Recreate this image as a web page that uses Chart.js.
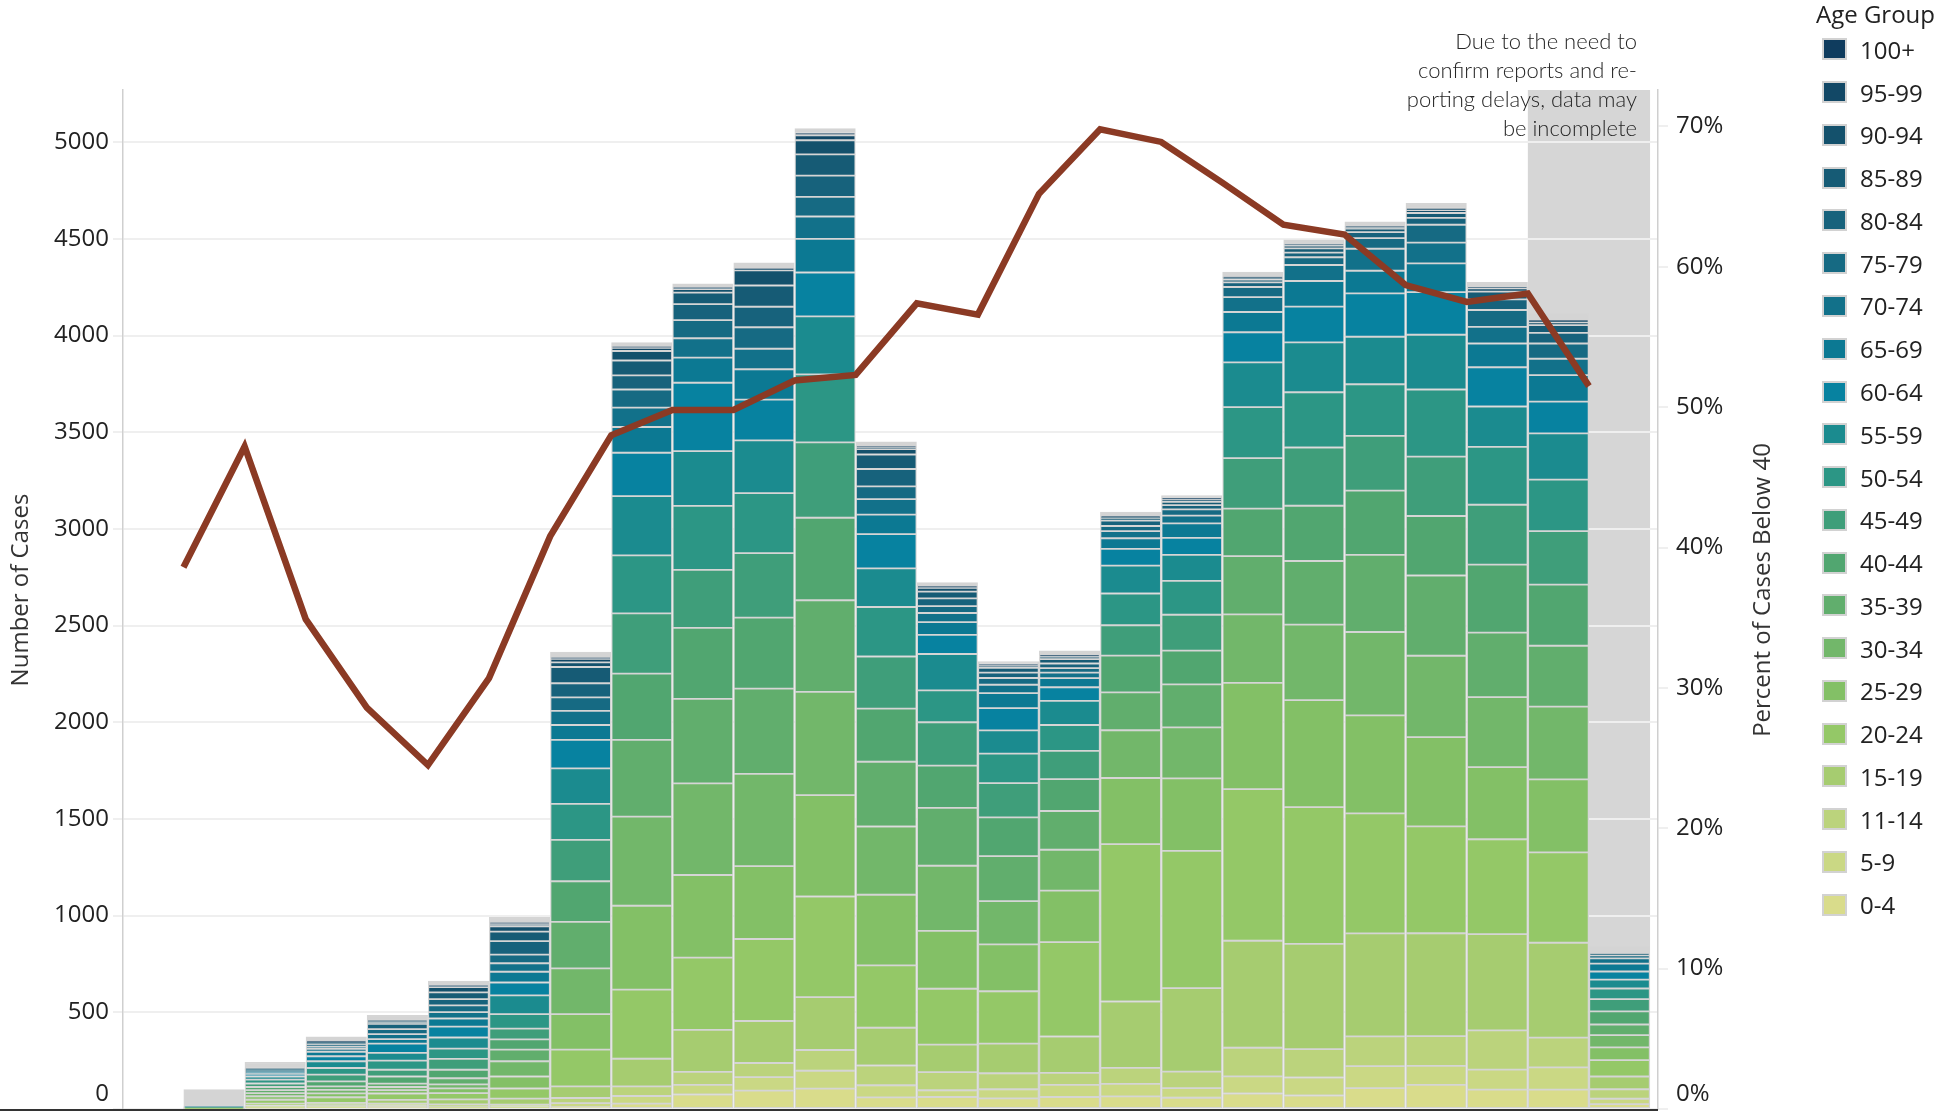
<!DOCTYPE html>
<html>
<head>
<meta charset="utf-8">
<title>Cases by Age Group</title>
<script src="https://cdn.jsdelivr.net/npm/chart.js@4.4.1/dist/chart.umd.min.js"></script>
<style>
  html, body { margin: 0; padding: 0; background: #fff; }
  #wrap { position: relative; width: 1944px; height: 1111px; overflow: hidden; font-family: "Open Sans", sans-serif; }
  #chart { position: absolute; left: 0; top: 0; }
  .note { position: absolute; right: 307px; top: 26px; text-align: right; white-space: nowrap;
          font-family: Lato, sans-serif; font-weight: 300; font-size: 22px; line-height: 29px; color: #262626; }
  .legend { position: absolute; left: 1816px; top: 0; color: #222; }
  .legend .title { font-size: 24px; line-height: 28px; height: 28px; white-space: nowrap; }
  .legend .row { display: flex; align-items: center; height: 42.77px; font-size: 24px; }
  .legend .sw { width: 25px; height: 22px; box-sizing: border-box; border: 2px solid #d2d2d2; margin-left: 6px; margin-right: 13px; }
</style>
</head>
<body>
<div id="wrap">
  <canvas id="chart" width="1944" height="1111"></canvas>
  <div class="note">Due to the need to<br>confirm reports and re-<br>porting delays, data may<br>be incomplete</div>
  <div class="legend" id="legend"><div class="title">Age Group</div></div>
</div>
<script>
// cases per week and age group, one value per bar (24 bars)
const age0to4   = [0, 4, 5, 6, 4, 5, 10, 28, 75, 95, 105, 60, 62, 55, 62, 65, 58, 80, 70, 108, 125, 100, 100, 25];
const age5to9   = [0, 6, 6, 9, 6, 5, 20, 39, 50, 70, 93, 63, 35, 47, 63, 65, 50, 89, 93, 114, 98, 104, 115, 28];
const age11to14 = [0, 8, 8, 12, 14, 12, 27, 50, 67, 73, 107, 102, 94, 83, 62, 83, 85, 148, 147, 154, 154, 203, 154, 49];
const age15to19 = [1, 10, 12, 20, 26, 32, 60, 143, 217, 217, 274, 195, 142, 153, 188, 343, 432, 553, 544, 532, 532, 497, 491, 66];
const age20to24 = [1, 20, 30, 33, 32, 52, 190, 357, 374, 424, 520, 323, 289, 271, 488, 814, 710, 784, 707, 621, 553, 491, 467, 85];
const age25to29 = [1, 18, 20, 18, 25, 62, 184, 434, 427, 377, 524, 365, 299, 242, 266, 342, 375, 550, 554, 507, 461, 373, 378, 66];
const age30to34 = [1, 16, 18, 16, 20, 79, 236, 461, 474, 477, 534, 353, 337, 224, 212, 247, 264, 354, 390, 431, 421, 362, 376, 63];
const age35to39 = [1, 16, 18, 17, 32, 60, 241, 397, 437, 441, 474, 335, 299, 233, 200, 196, 222, 301, 329, 399, 415, 334, 315, 55];
const age40to44 = [1, 16, 26, 37, 44, 53, 210, 343, 367, 367, 427, 275, 219, 200, 165, 190, 175, 246, 286, 332, 308, 351, 316, 68];
const age45to49 = [1, 18, 35, 35, 56, 56, 214, 311, 300, 334, 390, 269, 224, 177, 146, 157, 185, 261, 301, 283, 307, 310, 277, 63];
const age50to54 = [1, 20, 34, 47, 53, 75, 186, 300, 331, 310, 351, 256, 165, 153, 134, 164, 175, 264, 286, 267, 347, 299, 266, 55];
const age55to59 = [2, 16, 35, 40, 58, 97, 184, 307, 283, 273, 300, 200, 188, 120, 125, 144, 135, 231, 258, 246, 283, 209, 239, 46];
const age60to64 = [1, 14, 26, 48, 56, 66, 147, 224, 354, 211, 227, 177, 99, 115, 70, 87, 88, 156, 185, 224, 221, 203, 164, 42];
const age65to69 = [1, 10, 23, 23, 42, 56, 77, 133, 130, 157, 174, 101, 66, 78, 47, 55, 75, 105, 132, 117, 148, 123, 137, 41];
const age70to74 = [0, 6, 15, 26, 33, 44, 73, 100, 100, 106, 116, 80, 47, 43, 29, 37, 40, 77, 83, 114, 108, 86, 85, 27];
const age75to79 = [0, 4, 12, 26, 35, 44, 70, 94, 94, 111, 101, 66, 36, 35, 23, 26, 32, 52, 40, 55, 92, 87, 79, 16];
const age80to84 = [0, 3, 10, 27, 32, 70, 73, 73, 83, 106, 110, 90, 40, 28, 24, 28, 22, 24, 24, 31, 36, 55, 55, 4];
const age85to89 = [0, 2, 8, 10, 35, 49, 84, 77, 59, 110, 110, 75, 35, 24, 23, 14, 17, 15, 22, 18, 25, 40, 40, 2];
const age90to94 = [0, 1, 5, 5, 27, 28, 24, 49, 18, 79, 73, 28, 20, 12, 13, 5, 12, 8, 15, 7, 15, 17, 15, 1];
const age95to99 = [0, 0, 2, 2, 7, 13, 18, 16, 7, 8, 26, 10, 5, 5, 4, 2, 4, 3, 5, 3, 5, 5, 7, 0];
const age100up  = [0, 0, 1, 0, 3, 7, 8, 8, 3, 3, 14, 4, 3, 2, 2, 1, 2, 2, 2, 1, 2, 2, 3, 0];
const ageUnknown = [88, 34, 24, 27, 22, 26, 27, 20, 17, 27, 20, 24, 19, 14, 24, 22, 14, 25, 22, 24, 28, 24, 35, 40];

// percent of cases below 40, one point per week
const pctBelow40 = [38.6, 47.2, 34.9, 28.6, 24.5, 30.7, 40.8, 48.0, 49.8, 49.8, 51.9, 52.3,
                    57.4, 56.6, 65.2, 69.8, 68.9, 66.0, 63.0, 62.3, 58.7, 57.5, 58.1, 51.5];

// tick values of the two axes
const countTicks = [0, 500, 1000, 1500, 2000, 2500, 3000, 3500, 4000, 4500, 5000];
const pctTicks = [0, 10, 20, 30, 40, 50, 60, 70];

const ageGroups = ["0-4", "5-9", "11-14", "15-19", "20-24", "25-29", "30-34", "35-39", "40-44", "45-49",
                   "50-54", "55-59", "60-64", "65-69", "70-74", "75-79", "80-84", "85-89", "90-94", "95-99", "100+"];
const ageColors = ["#d9dc8b", "#cad884", "#bbd37c", "#a6cc70", "#94c867", "#83c066", "#72b76a", "#61ae6d", "#51a670", "#3f9e7a",
                   "#2c9685", "#1b8b8f", "#0782a0", "#0c7993", "#12718a", "#166a83", "#17627c", "#165b75", "#14516c", "#124866", "#0f3c5e"];

const groupSeries = [age0to4, age5to9, age11to14, age15to19, age20to24, age25to29, age30to34, age35to39, age40to44, age45to49,
                     age50to54, age55to59, age60to64, age65to69, age70to74, age75to79, age80to84, age85to89, age90to94, age95to99, age100up];

const FONT = '"Open Sans", sans-serif';
const BORDER = "#d5d5d5";

// bars sit in slots [i, i+1] of a linear x scale, line points on the slot edges
const toBars = (arr) => arr.map((v, i) => ({ x: i + 0.5, y: v }));

const barStyle = {
    type: "bar",
    borderColor: BORDER,
    borderWidth: 1.25,
    borderSkipped: false,
    barPercentage: 1,
    categoryPercentage: 1,
    yAxisID: "y",
    order: 1,
};

const datasets = groupSeries.map((arr, g) => ({
    ...barStyle,
    label: ageGroups[g],
    data: toBars(arr),
    backgroundColor: ageColors[g],
}));

datasets.push({ ...barStyle, label: "Unknown", data: toBars(ageUnknown), backgroundColor: "#d4d4d4" });

datasets.push({
    type: "line",
    label: "Percent of Cases Below 40",
    data: pctBelow40.map((v, i) => ({ x: i, y: v })),
    borderColor: "#8b3a24",
    borderWidth: 6.5,
    borderJoinStyle: "miter",
    pointRadius: 0,
    tension: 0,
    fill: false,
    yAxisID: "y1",
    order: 0,
});

// grey band behind the last two weeks, axis titles and the dark base line
const decorPlugin = {
    id: "decor",
    beforeDraw(chart) {
        const { ctx, chartArea, scales } = chart;
        const x0 = scales.x.getPixelForValue(22);
        const x1 = scales.x.getPixelForValue(24);
        ctx.save();
        ctx.fillStyle = "#d6d6d6";
        ctx.fillRect(x0, chartArea.top, x1 - x0, chartArea.bottom - chartArea.top);
        ctx.restore();
    },
    afterDraw(chart) {
        const { ctx, chartArea } = chart;
        ctx.save();
        ctx.fillStyle = "#333";
        ctx.fillRect(0, chartArea.bottom, chartArea.right, 2);
        ctx.restore();

        const titles = [["Number of Cases", 21], ["Percent of Cases Below 40", 1763]];
        titles.forEach(([text, x]) => {
            ctx.save();
            ctx.font = "24px " + FONT;
            ctx.fillStyle = "#333";
            ctx.textAlign = "center";
            ctx.textBaseline = "middle";
            ctx.translate(x, 590);
            ctx.rotate(-Math.PI / 2);
            ctx.fillText(text, 0, 0);
            ctx.restore();
        });
    },
};

const fitAxis = (width) => (s) => {
    s.width = width;
    s.paddingTop = 0;
    s.paddingBottom = 0;
};

new Chart(document.getElementById("chart"), {
    type: "bar",
    data: { datasets },
    options: {
        responsive: false,
        animation: false,
        devicePixelRatio: 1,
        layout: { padding: { top: 90, bottom: 2, left: 0, right: 0 } },
        plugins: { legend: { display: false }, tooltip: { enabled: false } },
        scales: {
            x: {
                type: "linear",
                min: -0.99,
                max: 24.13,
                offset: false,
                stacked: true,
                display: false,
            },
            y: {
                position: "left",
                stacked: true,
                min: 0,
                max: 5270,
                afterFit: fitAxis(123),
                afterBuildTicks: (s) => { s.ticks = countTicks.map((v) => ({ value: v })); },
                ticks: {
                    padding: 4,
                    color: "#222",
                    font: { family: FONT, size: 24 },
                    callback: (v) => (v === 0 ? ["0", ""] : String(v)),
                },
                grid: { color: "#efefef", lineWidth: 2, tickLength: 10 },
                border: { display: true, color: "#cfcfcf", width: 1.5 },
            },
            y1: {
                position: "right",
                stacked: false,
                min: 0,
                max: 72.6,
                afterFit: fitAxis(286),
                afterBuildTicks: (s) => { s.ticks = pctTicks.map((v) => ({ value: v })); },
                ticks: {
                    padding: 8,
                    color: "#222",
                    font: { family: FONT, size: 24 },
                    callback: (v) => (v === 0 ? ["0%", ""] : v + "%"),
                },
                grid: { drawOnChartArea: false, color: "#efefef", lineWidth: 2, tickLength: 10 },
                border: { display: true, color: "#cfcfcf", width: 1.5 },
            },
        },
    },
    plugins: [decorPlugin],
});

// legend, oldest group first like the reference
const legend = document.getElementById("legend");
for (let g = ageGroups.length - 1; g >= 0; g--) {
    const row = document.createElement("div");
    row.className = "row";
    row.innerHTML = `<span class="sw" style="background:${ageColors[g]}"></span><span>${ageGroups[g]}</span>`;
    legend.appendChild(row);
}
</script>
</body>
</html>
